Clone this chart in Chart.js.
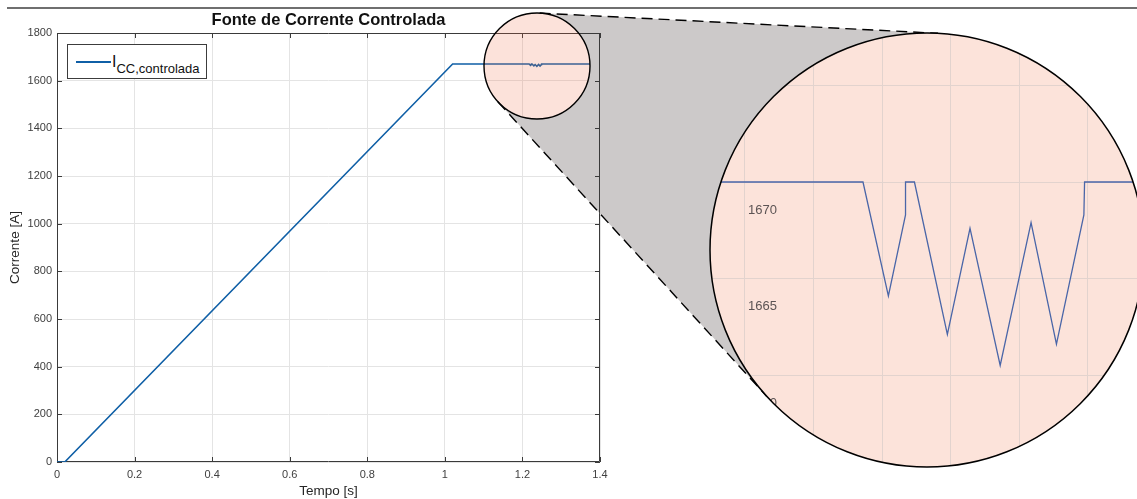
<!DOCTYPE html>
<html>
<head>
<meta charset="utf-8">
<title>Fonte de Corrente Controlada</title>
<script src="https://cdn.jsdelivr.net/npm/chart.js@4.4.1/dist/chart.umd.min.js"></script>
<style>
  html, body { margin: 0; padding: 0; background: #fff; }
  #fig { position: relative; width: 1137px; height: 499px; overflow: hidden;
         font-family: 'Liberation Sans', Arial, Helvetica, sans-serif; }
  #rule { position: absolute; left: 7px; top: 7px; width: 1130px; height: 2px; background: #6f6f6f; }
  #main { position: absolute; left: 0; top: 0; }
  #zoom { position: absolute; left: 707px; top: 30px; }
  #legend { position: absolute; left: 67px; top: 44px; width: 138px; height: 33px;
            border: 1px solid #3c3c3c; background: #fff; }
  #legend .swatch { position: absolute; left: 8px; top: 16px; width: 35px; height: 2px; }
  #legend .txt { position: absolute; left: 44px; top: 9px; font-size: 16px; line-height: 16px;
                 color: #111; white-space: nowrap; }
  #legend sub { font-size: 13px; vertical-align: -6px; line-height: 0; }
</style>
</head>
<body>
<div id="fig">
  <div id="rule"></div>
  <canvas id="main" width="1137" height="499"></canvas>
  <canvas id="zoom" width="440" height="440"></canvas>
  <div id="legend"><span class="swatch"></span><span class="txt"></span></div>
</div>
<script>
// ---- data -------------------------------------------------------------
const tempo    = [0, 0.02, 1.02, 1.2172, 1.2209, 1.2234, 1.2234, 1.2247, 1.2295,
                  1.2328, 1.2372, 1.2417, 1.2454, 1.2494, 1.2495, 1.4];
const corrente = [0, 0, 1670, 1670, 1664.1, 1668.3, 1670, 1670, 1662.1,
                  1667.6, 1660.5, 1667.9, 1661.6, 1668.3, 1670, 1670];

const serieNome = 'I';
const serieSub  = 'CC,controlada';
const titulo    = 'Fonte de Corrente Controlada';
const xTitulo   = 'Tempo [s]';
const yTitulo   = 'Corrente [A]';

const xTicks      = [0, 0.2, 0.4, 0.6, 0.8, 1, 1.2, 1.4];
const xTickLabels = ['0', '0.2', '0.4', '0.6', '0.8', '1', '1.2', '1.4'];
const yTicks      = [0, 200, 400, 600, 800, 1000, 1200, 1400, 1600, 1800];
const yTickLabels = ['0', '200', '400', '600', '800', '1000', '1200', '1400', '1600', '1800'];

// detail view
const zoomXRange  = [1.194461, 1.258601];
const zoomYRange  = [1655.078, 1677.876];
const zoomXTicks  = [1.20, 1.21, 1.22, 1.23, 1.24, 1.25];
const zoomYTicks  = [1660, 1665, 1670, 1675];
const zoomYLabels = ['1660', '1665', '1670', ''];

// ---- styling ----------------------------------------------------------
const FONT  = "'Liberation Sans', Arial, Helvetica, sans-serif";
const BLUE  = '#0f5fa6';
const AXIS  = '#3a3a3a';
const TEXT  = '#404040';
const GRID  = '#e4e4e4';
const PINK  = '#fce3da';
const LINK  = '#ccc9c9';

// lens geometry (canvas pixels)
const LENS_SMALL = { x: 537, y: 66, r: 53 };
const LENS_BIG   = { x: 927, y: 250, r: 217 };
const ZOOM_ORIGIN = { x: 707, y: 30 };

Chart.defaults.font.family = FONT;

const pontos = tempo.map((t, i) => ({ x: t, y: corrente[i] }));

// legend
document.querySelector('#legend .swatch').style.background = BLUE;
document.querySelector('#legend .txt').innerHTML = serieNome + '<sub>' + serieSub + '</sub>';

function setTicks(values) {
  return scale => { scale.ticks = values.map(v => ({ value: v })); };
}
function noPad(scale) {
  scale.paddingTop = 0; scale.paddingBottom = 0;
  scale.paddingLeft = 0; scale.paddingRight = 0;
}

// outer tangent lines of two circles
function tangents(a, b) {
  const dx = b.x - a.x, dy = b.y - a.y, d = Math.hypot(dx, dy);
  const th = Math.atan2(dy, dx), ph = Math.acos((b.r - a.r) / d);
  return [th + ph, th - ph].map(ang => {
    const nx = Math.cos(ang), ny = Math.sin(ang);
    return [{ x: a.x - a.r * nx, y: a.y - a.r * ny },
            { x: b.x - b.r * nx, y: b.y - b.r * ny }];
  });
}

function linkPath(ctx, up, lo) {
  ctx.beginPath();
  ctx.moveTo(up[0].x, up[0].y);
  ctx.lineTo(up[1].x, up[1].y);
  ctx.lineTo(lo[1].x, lo[1].y);
  ctx.lineTo(lo[0].x, lo[0].y);
  ctx.closePath();
}

// axes box with inward ticks on all four sides
function drawBox(chart) {
  const ctx = chart.ctx;
  const { left, right, top, bottom } = chart.chartArea;
  const xs = chart.scales.x, ys = chart.scales.y;
  const TL = 5;
  ctx.save();
  ctx.strokeStyle = AXIS;
  ctx.lineWidth = 1;
  ctx.beginPath();
  ctx.rect(left + 0.5, top + 0.5, right - left - 1, bottom - top - 1);
  xTicks.forEach(v => {
    const px = Math.round(xs.getPixelForValue(v)) + 0.5;
    ctx.moveTo(px, bottom); ctx.lineTo(px, bottom - TL);
    ctx.moveTo(px, top);    ctx.lineTo(px, top + TL);
  });
  yTicks.forEach(v => {
    const py = Math.round(ys.getPixelForValue(v)) + 0.5;
    ctx.moveTo(left, py);  ctx.lineTo(left + TL, py);
    ctx.moveTo(right, py); ctx.lineTo(right - TL, py);
  });
  ctx.stroke();
  ctx.restore();
}

const lensPlugin = {
  id: 'lens',
  beforeDatasetsDraw(chart) {
    drawBox(chart);
  },
  afterDatasetsDraw(chart) {
    const ctx = chart.ctx;
    const a = LENS_SMALL, b = LENS_BIG;
    const [up, lo] = tangents(a, b);

    // grey link between the lenses
    ctx.save();
    ctx.beginPath();
    ctx.rect(0, 0, chart.width, chart.height);
    ctx.arc(a.x, a.y, a.r, 0, Math.PI * 2);
    ctx.clip('evenodd');
    linkPath(ctx, up, lo);
    ctx.fillStyle = LINK;
    ctx.fill();
    ctx.restore();

    // axes box stays visible over the link
    ctx.save();
    linkPath(ctx, up, lo);
    ctx.clip();
    drawBox(chart);
    ctx.restore();

    // small lens
    ctx.save();
    ctx.beginPath();
    ctx.arc(a.x, a.y, a.r, 0, Math.PI * 2);
    ctx.fillStyle = 'rgba(242,110,70,0.2)';
    ctx.fill();
    ctx.lineWidth = 1.4;
    ctx.strokeStyle = '#000';
    ctx.stroke();

    // dashed tangents
    ctx.setLineDash([11, 6]);
    ctx.lineWidth = 1.4;
    [up, lo].forEach(seg => {
      ctx.beginPath();
      ctx.moveTo(seg[0].x, seg[0].y);
      ctx.lineTo(seg[1].x, seg[1].y);
      ctx.stroke();
    });
    ctx.restore();
  }
};

new Chart(document.getElementById('main'), {
  type: 'line',
  data: {
    datasets: [{
      label: serieNome + '_' + serieSub,
      data: pontos,
      borderColor: BLUE,
      borderWidth: 1.6,
      pointRadius: 0,
      tension: 0,
      fill: false
    }]
  },
  options: {
    responsive: false,
    animation: false,
    events: [],
    layout: { padding: { left: 0, right: 537, top: 0, bottom: 0 } },
    plugins: {
      legend: { display: false },
      tooltip: { enabled: false },
      title: {
        display: true, text: titulo, fullSize: false, color: '#111',
        font: { size: 16.5, weight: 'bold' }, padding: { top: 11, bottom: 2.2 }
      }
    },
    scales: {
      x: {
        type: 'linear', min: 0, max: 1.4,
        afterBuildTicks: setTicks(xTicks),
        afterFit: s => { s.height = 37; },
        grid: { color: GRID, drawTicks: false },
        border: { display: false },
        ticks: { padding: 6, color: TEXT, font: { size: 11 }, maxRotation: 0, autoSkip: false,
                 callback: (v, i) => xTickLabels[i] },
        title: { display: true, text: xTitulo, color: '#262626', font: { size: 13.5 },
                 padding: { top: 0, bottom: 0 } }
      },
      y: {
        type: 'linear', min: 0, max: 1800,
        afterBuildTicks: setTicks(yTicks),
        afterFit: s => { s.width = 57; },
        grid: { color: GRID, drawTicks: false },
        border: { display: false },
        ticks: { padding: 5, color: TEXT, font: { size: 11 }, autoSkip: false,
                 callback: (v, i) => yTickLabels[i] },
        title: { display: true, text: yTitulo, color: '#262626', font: { size: 13.5 },
                 padding: { top: 7, bottom: 0 } }
      }
    }
  },
  plugins: [lensPlugin]
});

// detail view inside the large lens
const cx = LENS_BIG.x - ZOOM_ORIGIN.x, cy = LENS_BIG.y - ZOOM_ORIGIN.y, cr = LENS_BIG.r;
const ringPlugin = {
  id: 'ring',
  beforeDraw(chart) {
    const ctx = chart.ctx;
    ctx.save();
    ctx.beginPath();
    ctx.arc(cx, cy, cr, 0, Math.PI * 2);
    ctx.clip();
    ctx.fillStyle = PINK;
    ctx.fillRect(0, 0, chart.width, chart.height);
  },
  afterDraw(chart) {
    const ctx = chart.ctx;
    ctx.restore();
    ctx.save();
    ctx.beginPath();
    ctx.arc(cx, cy, cr, 0, Math.PI * 2);
    ctx.lineWidth = 1.5;
    ctx.strokeStyle = '#000';
    ctx.stroke();
    ctx.restore();
  }
};

new Chart(document.getElementById('zoom'), {
  type: 'line',
  data: {
    datasets: [{
      label: serieNome + '_' + serieSub,
      data: pontos,
      borderColor: '#4a66a8',
      borderWidth: 1.3,
      pointRadius: 0,
      tension: 0,
      fill: false
    }]
  },
  options: {
    responsive: false,
    animation: false,
    events: [],
    layout: { padding: 0 },
    plugins: { legend: { display: false }, tooltip: { enabled: false }, title: { display: false } },
    scales: {
      x: {
        type: 'linear', min: zoomXRange[0], max: zoomXRange[1],
        afterBuildTicks: setTicks(zoomXTicks),
        afterFit: s => { s.height = 0; noPad(s); },
        grid: { color: '#e2d3ce', drawTicks: false },
        border: { display: false },
        ticks: { display: false }
      },
      y: {
        type: 'linear', min: zoomYRange[0], max: zoomYRange[1],
        afterBuildTicks: setTicks(zoomYTicks),
        afterFit: s => { s.width = 0; noPad(s); },
        grid: { color: '#e2d3ce', drawTicks: false },
        border: { display: false },
        ticks: { mirror: true, padding: 41, labelOffset: 28, color: '#5c5454',
                 font: { size: 13 }, autoSkip: false,
                 callback: (v, i) => zoomYLabels[i] }
      }
    }
  },
  plugins: [ringPlugin]
});
</script>
</body>
</html>
